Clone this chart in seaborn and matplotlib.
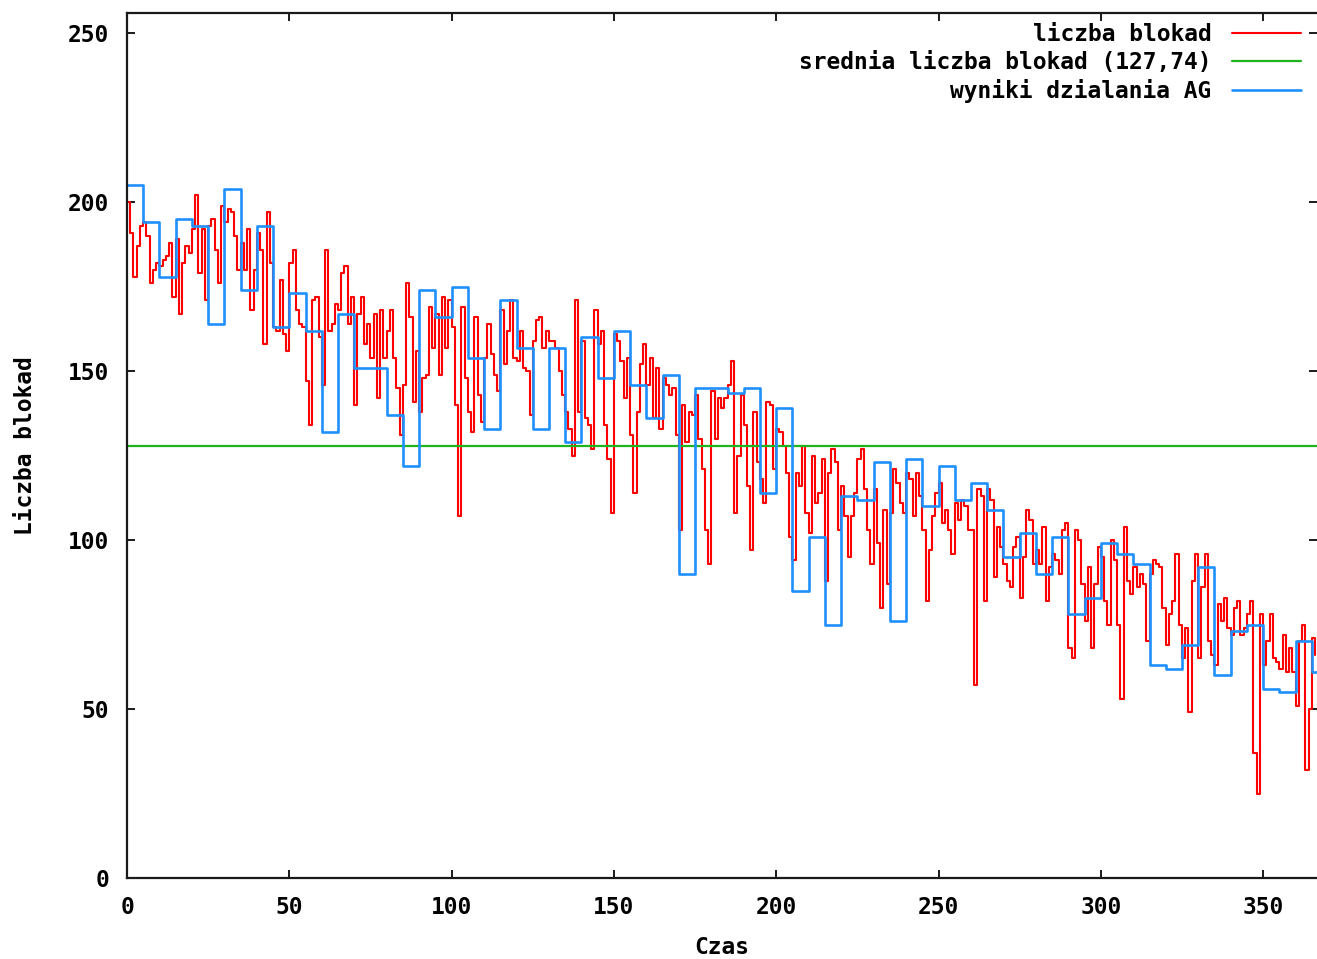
import numpy as np
import matplotlib
matplotlib.use("Agg")
import matplotlib.pyplot as plt
import seaborn as sns

# Daily number of blockades (one value per day)
liczba_blokad = [
    200, 191, 178, 187, 193, 194, 190, 176, 180, 182,
    181, 183, 184, 188, 172, 189, 167, 182, 187, 185,
    192, 202, 179, 192, 171, 193, 195, 186, 176, 199,
    194, 198, 197, 190, 180, 188, 180, 192, 168, 180,
    191, 186, 158, 197, 182, 163, 162, 177, 161, 156,
    182, 186, 168, 164, 163, 147, 134, 171, 172, 160,
    146, 186, 162, 164, 170, 168, 179, 181, 164, 172,
    140, 167, 172, 158, 164, 154, 167, 142, 168, 154,
    162, 168, 154, 145, 131, 146, 176, 166, 141, 156,
    138, 148,
    149, 169, 157, 167, 149, 172, 157, 171, 163, 140,
    107, 169, 148, 138, 132, 166, 143, 135, 154, 164,
    155, 149, 144, 168, 152, 162, 171, 154, 153, 162,
    151, 150, 137, 159, 165, 166, 157, 162, 159, 159,
    157, 150, 143, 138, 133, 125, 171, 138, 159, 136,
    134, 127, 168, 158, 162, 134, 124, 108, 161, 159,
    153, 142, 154, 131, 114, 138, 152, 158, 146, 154,
    136, 151, 133, 148, 146, 143, 145, 131, 103, 140,
    129, 138, 137, 143, 130, 121, 103, 93, 144, 130,
    142,
    139, 142, 146, 153, 108, 125, 143, 134, 116, 97,
    138, 123, 118, 111, 141, 140, 121, 133, 132, 128,
    120, 101, 94, 120, 116, 128, 108, 102, 125, 111,
    114, 124, 88, 120, 127, 123, 103, 116, 107, 95,
    107, 114, 124, 127, 115, 103, 93, 115, 99, 80,
    109, 87, 108, 121, 117, 111, 108, 120, 118, 107,
    120, 113, 103, 82, 97, 107, 114, 117, 105, 109,
    103, 96, 111, 106, 112, 110, 103, 103, 57, 115,
    113, 82, 115, 112, 89, 104, 98, 93, 88, 86,
    98,
    101, 83, 95, 109, 106, 93, 97, 93, 104, 82,
    92, 96, 94, 90, 103, 105, 68, 65, 103, 100,
    87, 76, 92, 68, 87, 98, 95, 82, 75, 100,
    94, 75, 53, 104, 88, 84, 92, 86, 90, 87,
    70, 90, 94, 93, 92, 80, 69, 78, 82, 96,
    75, 65, 74, 49, 88, 96, 65, 86, 96, 70,
    66, 63, 81, 76, 83, 74, 72, 80, 82, 72,
    74, 78, 82, 37, 25, 78, 63, 70, 78, 65,
    64, 62, 72, 61, 68, 61, 51, 70, 75, 32,
    50, 71, 66,
]

# Genetic algorithm results, one value per 5-day period
wyniki_ag = [
    205, 194, 178, 195, 193, 164, 204, 174, 193, 163,
    173, 162, 132, 167, 151, 151, 137, 122, 174, 166,
    175, 154, 133, 171, 157, 133, 157, 129, 160, 148,
    162, 146, 136, 149, 90, 145, 145, 143.5, 145, 114,
    139, 85, 101, 75, 113, 112, 123, 76, 124, 110,
    122, 112, 117, 109, 95, 102, 90, 101, 78, 83,
    99, 96, 93, 63, 62, 69, 92, 60, 73, 75,
    56, 55, 70, 61,
]

srednia = 127.74
ag_okres = 5

x_ticks = [0, 50, 100, 150, 200, 250, 300, 350]
y_ticks = [0, 50, 100, 150, 200, 250]

labels = [
    "liczba blokad",
    "srednia liczba blokad (127,74)",
    "wyniki dzialania AG",
]

dni = np.arange(len(liczba_blokad))
ag_dni = np.arange(0, ag_okres * (len(wyniki_ag) + 1), ag_okres)
ag_wart = np.append(wyniki_ag, wyniki_ag[-1])  # hold the last period to its end

sns.set_theme(style="white")
plt.rcParams["font.family"] = ["DejaVu Sans Mono"]
plt.rcParams["font.weight"] = "bold"
plt.rcParams["text.color"] = "black"
plt.rcParams["axes.labelcolor"] = "black"
plt.rcParams["xtick.color"] = "black"
plt.rcParams["ytick.color"] = "black"

W, H = 1317, 959
fig = plt.figure(figsize=(W / 100, H / 100), dpi=100)
fig.patch.set_facecolor("white")
ax = fig.add_axes([127 / W, 81 / H, 1 - 127 / W, 865 / H])
ax.set_facecolor("white")

sns.lineplot(x=dni, y=liczba_blokad, ax=ax, color="#ff0000", lw=1.5,
             drawstyle="steps-post", label=labels[0], estimator=None)
ax.axhline(srednia, color="#1fb41f", lw=1.6, label=labels[1])
sns.lineplot(x=ag_dni, y=ag_wart, ax=ax, color="#1e90ff", lw=1.9,
             drawstyle="steps-post", label=labels[2], estimator=None)

ax.set_xlim(0, 366.6)
ax.set_ylim(0, 256)
ax.set_xticks(x_ticks)
ax.set_yticks(y_ticks)

for side in ("left", "bottom", "top"):
    ax.spines[side].set_color("#1a1a1a")
    ax.spines[side].set_linewidth(1.6)
ax.spines["right"].set_visible(False)

ax.tick_params(axis="both", which="major", direction="in", length=6,
               width=1.4, color="#1a1a1a", labelcolor="black", labelsize=16.5,
               pad=13, top=True, right=True, bottom=True, left=True)
for t in ax.get_xticklabels() + ax.get_yticklabels():
    t.set_fontweight("bold")

ax.set_xlabel("Czas", fontsize=16.5, fontweight="bold", labelpad=12, color="black")
ax.set_ylabel("Liczba blokad", fontsize=16.5, fontweight="bold", labelpad=22,
              color="black")

handles, lbls = ax.get_legend_handles_labels()
leg = ax.legend(handles, lbls, loc="upper right",
                bbox_to_anchor=(1301 / W, (H - 23) / H), bbox_transform=fig.transFigure,
                frameon=False, markerfirst=False, handlelength=3.0, handletextpad=0.9,
                labelspacing=0.22, borderpad=0, borderaxespad=0,
                prop={"family": "DejaVu Sans Mono", "weight": "bold", "size": 16.5})
for t in leg.get_texts():
    t.set_color("black")

fig.savefig("out.png", dpi=100, facecolor="white")
